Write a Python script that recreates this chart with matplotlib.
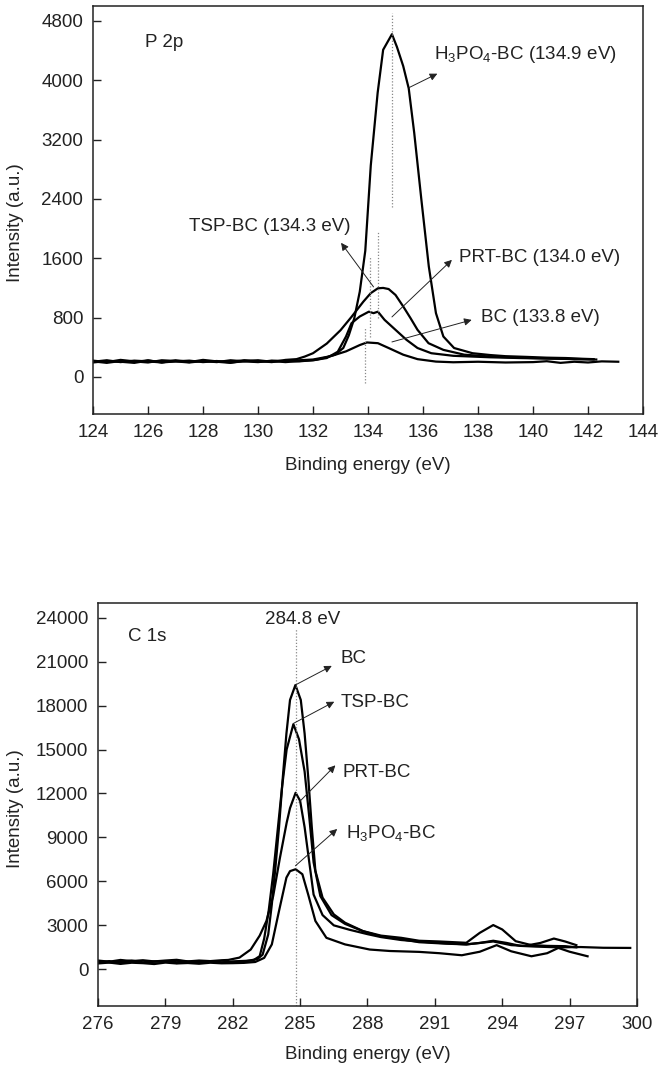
import matplotlib
matplotlib.use("Agg")
import matplotlib.pyplot as plt

plt.rcParams['font.family'] = ['Liberation Sans', 'DejaVu Sans']
plt.rcParams['mathtext.fontset'] = 'custom'
plt.rcParams['mathtext.rm'] = 'Liberation Sans'

# ---------------- P 2p data ----------------
p_h3po4_x = [124.0, 124.5, 125.0, 125.5, 126.0, 126.5, 127.0, 127.5, 128.0, 128.5, 129.0, 129.5, 130.0, 130.5, 131.0, 131.5,
             132.0, 132.5, 132.8, 133.1, 133.3, 133.5, 133.7, 133.9, 134.1, 134.35, 134.55, 134.87, 135.05, 135.28, 135.48,
             135.68, 135.94, 136.21, 136.47, 136.74, 137.13, 137.8, 138.45, 139.0, 139.8, 140.5, 141.2, 141.8, 142.2]
p_h3po4_y = [205, 225, 200, 220, 210, 195, 225, 205, 215, 200, 225, 210, 200, 220, 215, 225,
             235, 270, 300, 390, 560, 790, 1150, 1700, 2850, 3830, 4410, 4620, 4450, 4190, 3890,
             3290, 2390, 1490, 860, 545, 390, 320, 295, 280, 270, 260, 255, 245, 240]

p_tsp_x = [124.0, 124.5, 125.0, 125.5, 126.0, 126.5, 127.0, 127.5, 128.0, 128.5, 129.0, 129.5, 130.0, 130.5, 131.0, 131.4,
           131.7, 132.0, 132.5, 133.0, 133.4, 133.83, 134.1, 134.36, 134.55, 134.75, 135.0, 135.28, 135.55, 135.8, 136.2,
           136.74, 137.5, 138.45, 139.5, 140.5, 141.5, 142.3]
p_tsp_y = [220, 200, 230, 210, 195, 225, 215, 200, 230, 210, 205, 225, 215, 200, 230, 240,
           275, 320, 450, 630, 810, 1015, 1130, 1195, 1200, 1185, 1105, 950, 790, 635, 455,
           365, 300, 275, 260, 250, 240, 235]

p_prt_x = [124.0, 124.5, 125.0, 125.5, 126.0, 126.5, 127.0, 127.5, 128.0, 128.5, 129.0, 129.5, 130.0, 130.5, 131.0, 131.5,
           132.0, 132.5, 132.9, 133.2, 133.4, 133.7, 134.03, 134.2, 134.36, 134.6, 135.0, 135.4, 135.8, 136.3, 137.1,
           138.45, 139.5, 140.5, 141.5, 142.2]
p_prt_y = [195, 215, 205, 190, 220, 200, 210, 195, 215, 205, 190, 220, 205, 215, 200, 215,
           225, 255, 340, 545, 725, 815, 880, 860, 880, 770, 635, 500, 390, 320, 285,
           265, 255, 248, 242, 238]

p_bc_x = [124.0, 124.5, 125.0, 125.5, 126.0, 126.5, 127.0, 127.5, 128.0, 128.5, 129.0, 129.5, 130.0, 130.5, 131.0, 131.5,
          132.1, 132.6, 133.2, 133.7, 133.96, 134.36, 134.75, 135.28, 135.8, 136.47, 137.1, 138.0, 139.0, 140.0,
          140.5, 141.0, 141.5, 142.0, 142.5, 143.1]
p_bc_y = [210, 190, 215, 200, 225, 195, 210, 220, 200, 215, 195, 210, 225, 205, 215, 210,
          230, 275, 345, 430, 465, 455, 390, 300, 240, 207, 198, 205, 195, 200,
          212, 190, 205, 195, 210, 205]

p_ref_x = [133.89, 134.07, 134.36, 134.87]
p_ref_y0 = [-80, 540, 800, 2290]
p_ref_y1 = [660, 1620, 1960, 4910]

# ---------------- C 1s data ----------------
c_bc_x = [276.0, 276.5, 277.0, 277.5, 278.0, 278.5, 279.0, 279.5, 280.0, 280.5, 281.0, 281.5, 282.0, 282.6, 283.1,
          283.33, 283.58, 283.74, 283.9, 284.06, 284.23, 284.39, 284.55, 284.79, 285.03, 285.2, 285.36, 285.52,
          285.68, 286.0, 286.5, 287.0, 287.8, 288.6, 289.5, 290.3, 291.2, 292.4, 293.0, 293.6, 294.0, 294.6,
          295.3, 296.0, 296.8, 297.3]
c_bc_y = [470, 560, 420, 540, 450, 520, 560, 430, 500, 470, 540, 480, 500, 560, 700,
          1000, 2380, 4430, 6950, 9690, 13120, 16090, 18380, 19400, 18380, 16090, 13120, 9690,
          6720, 4890, 3750, 3180, 2610, 2300, 2150, 1950, 1900, 1810, 2490, 3020, 2720, 1920,
          1650, 1600, 1580, 1500]

c_tsp_x = [276.0, 276.5, 277.0, 277.5, 278.0, 278.5, 279.0, 279.5, 280.0, 280.5, 281.0, 281.5, 282.0, 282.9, 283.2,
           283.4, 283.6, 283.8, 284.0, 284.2, 284.4, 284.7, 284.95, 285.2, 285.4, 285.6, 285.9, 286.4, 287.0,
           287.8, 288.6, 289.5, 290.3, 291.5, 292.4, 293.6, 294.4, 295.0, 295.7, 296.3, 296.8, 297.3]
c_tsp_y = [560, 470, 520, 600, 480, 540, 500, 580, 540, 490, 560, 470, 540, 600, 900,
           2100, 4000, 6500, 9500, 12500, 15000, 16730, 15700, 13500, 10500, 7300, 5000, 3700, 3100,
           2600, 2250, 2050, 1850, 1750, 1700, 1900, 1650, 1600, 1800, 2100, 1900, 1650]

c_prt_x = [276.0, 276.5, 277.0, 277.5, 278.0, 278.5, 279.0, 279.5, 280.0, 280.5, 281.0, 281.5, 281.8, 282.3, 282.8,
           283.2, 283.5, 283.8, 284.1, 284.4, 284.55, 284.8, 285.0, 285.2, 285.4, 285.6, 286.0, 286.5, 287.2,
           288.0, 288.6, 289.5, 290.3, 291.2, 292.4, 293.0, 293.6, 294.2, 294.8, 295.5, 296.5, 297.5, 298.5, 299.7]
c_prt_y = [600, 520, 640, 560, 620, 540, 600, 650, 540, 600, 560, 620, 640, 800, 1350,
           2300, 3300, 5000, 7600, 10000, 11000, 12050, 11500, 9700, 7400, 5100, 3700, 3000, 2700,
           2400, 2200, 2000, 1900, 1800, 1700, 1800, 1950, 1800, 1600, 1550, 1500, 1520, 1470, 1460]

c_h3po4_x = [276.0, 276.5, 277.0, 277.5, 278.0, 278.5, 279.0, 279.5, 280.0, 280.5, 281.0, 281.5, 282.0, 282.5, 283.0,
             283.4, 283.74, 284.06, 284.39, 284.55, 284.8, 285.1, 285.36, 285.68, 286.17, 287.0, 288.1, 289.0,
             290.3, 291.2, 292.2, 293.0, 293.75, 294.4, 295.3, 296.0, 296.5, 297.0, 297.8]
c_h3po4_y = [400, 460, 370, 450, 420, 360, 460, 400, 430, 380, 450, 410, 420, 440, 500,
             780, 1700, 3980, 6260, 6700, 6830, 6490, 5100, 3300, 2150, 1700, 1350, 1250,
             1190, 1100, 960, 1200, 1650, 1230, 890, 1100, 1460, 1200, 890]

c_ref_x = 284.8
c_ref_y0 = -2500
c_ref_y1 = 23300

LW = 1.6
FS = 13.5

fig = plt.figure(figsize=(6.64, 10.76), dpi=100)

def style(ax):
    for s in ax.spines.values():
        s.set_linewidth(1.1)
        s.set_color('#222222')
    ax.tick_params(direction='in', length=6, width=1.0, top=False, right=False,
                   labelsize=FS, pad=7, colors='#222222')

arrow = dict(arrowstyle='-|>', lw=0.7, color='#222222', mutation_scale=11, shrinkA=0, shrinkB=0)

# ---------- top: P 2p ----------
ax1 = fig.add_axes([0.1401, 0.6152, 0.8283, 0.3792])
for xs, ys in [(p_h3po4_x, p_h3po4_y), (p_tsp_x, p_tsp_y), (p_prt_x, p_prt_y), (p_bc_x, p_bc_y)]:
    ax1.plot(xs, ys, color='black', lw=LW)
for xr, y0, y1 in zip(p_ref_x, p_ref_y0, p_ref_y1):
    ax1.plot([xr, xr], [y0, y1], color='#888888', lw=0.9, linestyle=(0, (1, 1.5)))
ax1.set_xlim(124, 144)
ax1.set_ylim(-500, 5000)
ax1.set_xticks(list(range(124, 145, 2)))
ax1.set_yticks(list(range(0, 4801, 800)))
style(ax1)
ax1.set_xlabel('Binding energy (eV)', fontsize=FS, color='#222222')
ax1.set_ylabel('Intensity (a.u.)', fontsize=FS, color='#222222')
ax1.xaxis.set_label_coords(0.5, -0.105)
ax1.yaxis.set_label_coords(-0.125, 0.47)
ax1.text(125.9, 4505, 'P 2p', fontsize=FS, va='center', ha='left', color='#222222')
ax1.annotate('', xy=(136.52, 4088), xytext=(135.49, 3900), arrowprops=arrow)
ax1.text(136.39, 4344, r'H$_{\mathregular{3}}$PO$_{\mathregular{4}}$-BC (134.9 eV)', fontsize=FS, va='center', ha='left', color='#222222')
ax1.annotate('', xy=(133.02, 1808), xytext=(134.2, 1214), arrowprops=arrow)
ax1.text(127.5, 2024, 'TSP-BC (134.3 eV)', fontsize=FS, va='center', ha='left', color='#222222')
ax1.annotate('', xy=(137.05, 1578), xytext=(134.87, 809), arrowprops=arrow)
ax1.text(137.3, 1605, 'PRT-BC (134.0 eV)', fontsize=FS, va='center', ha='left', color='#222222')
ax1.annotate('', xy=(137.77, 769), xytext=(134.87, 472), arrowprops=arrow)
ax1.text(138.1, 796, 'BC (133.8 eV)', fontsize=FS, va='center', ha='left', color='#222222')

# ---------- bottom: C 1s ----------
ax2 = fig.add_axes([0.1476, 0.0651, 0.8117, 0.3745])
for xs, ys in [(c_bc_x, c_bc_y), (c_tsp_x, c_tsp_y), (c_prt_x, c_prt_y), (c_h3po4_x, c_h3po4_y)]:
    ax2.plot(xs, ys, color='black', lw=LW)
ax2.plot([c_ref_x, c_ref_x], [c_ref_y0, c_ref_y1], color='#888888', lw=0.9, linestyle=(0, (1, 1.5)))
ax2.set_xlim(276, 300)
ax2.set_ylim(-2500, 25000)
ax2.set_xticks(list(range(276, 301, 3)))
ax2.set_yticks(list(range(0, 24001, 3000)))
style(ax2)
ax2.set_xlabel('Binding energy (eV)', fontsize=FS, color='#222222')
ax2.set_ylabel('Intensity (a.u.)', fontsize=FS, color='#222222')
ax2.xaxis.set_label_coords(0.5, -0.1)
ax2.yaxis.set_label_coords(-0.137, 0.49)
ax2.text(277.34, 22697, 'C 1s', fontsize=FS, va='center', ha='left', color='#222222')
ax2.text(285.11, 23863, '284.8 eV', fontsize=FS, va='center', ha='center', color='#222222')
ax2.annotate('', xy=(286.41, 20709), xytext=(284.79, 19406), arrowprops=arrow)
ax2.text(286.82, 21189, 'BC', fontsize=FS, va='center', ha='left', color='#222222')
ax2.annotate('', xy=(286.52, 18263), xytext=(284.7, 16780), arrowprops=arrow)
ax2.text(286.82, 18190, 'TSP-BC', fontsize=FS, va='center', ha='left', color='#222222')
ax2.annotate('', xy=(286.57, 13920), xytext=(284.95, 11406), arrowprops=arrow)
ax2.text(286.9, 13463, 'PRT-BC', fontsize=FS, va='center', ha='left', color='#222222')
ax2.annotate('', xy=(286.65, 9577), xytext=(284.79, 7063), arrowprops=arrow)
ax2.text(287.06, 9234, r'H$_{\mathregular{3}}$PO$_{\mathregular{4}}$-BC', fontsize=FS, va='center', ha='left', color='#222222')

fig.savefig('out.png', dpi=100)
